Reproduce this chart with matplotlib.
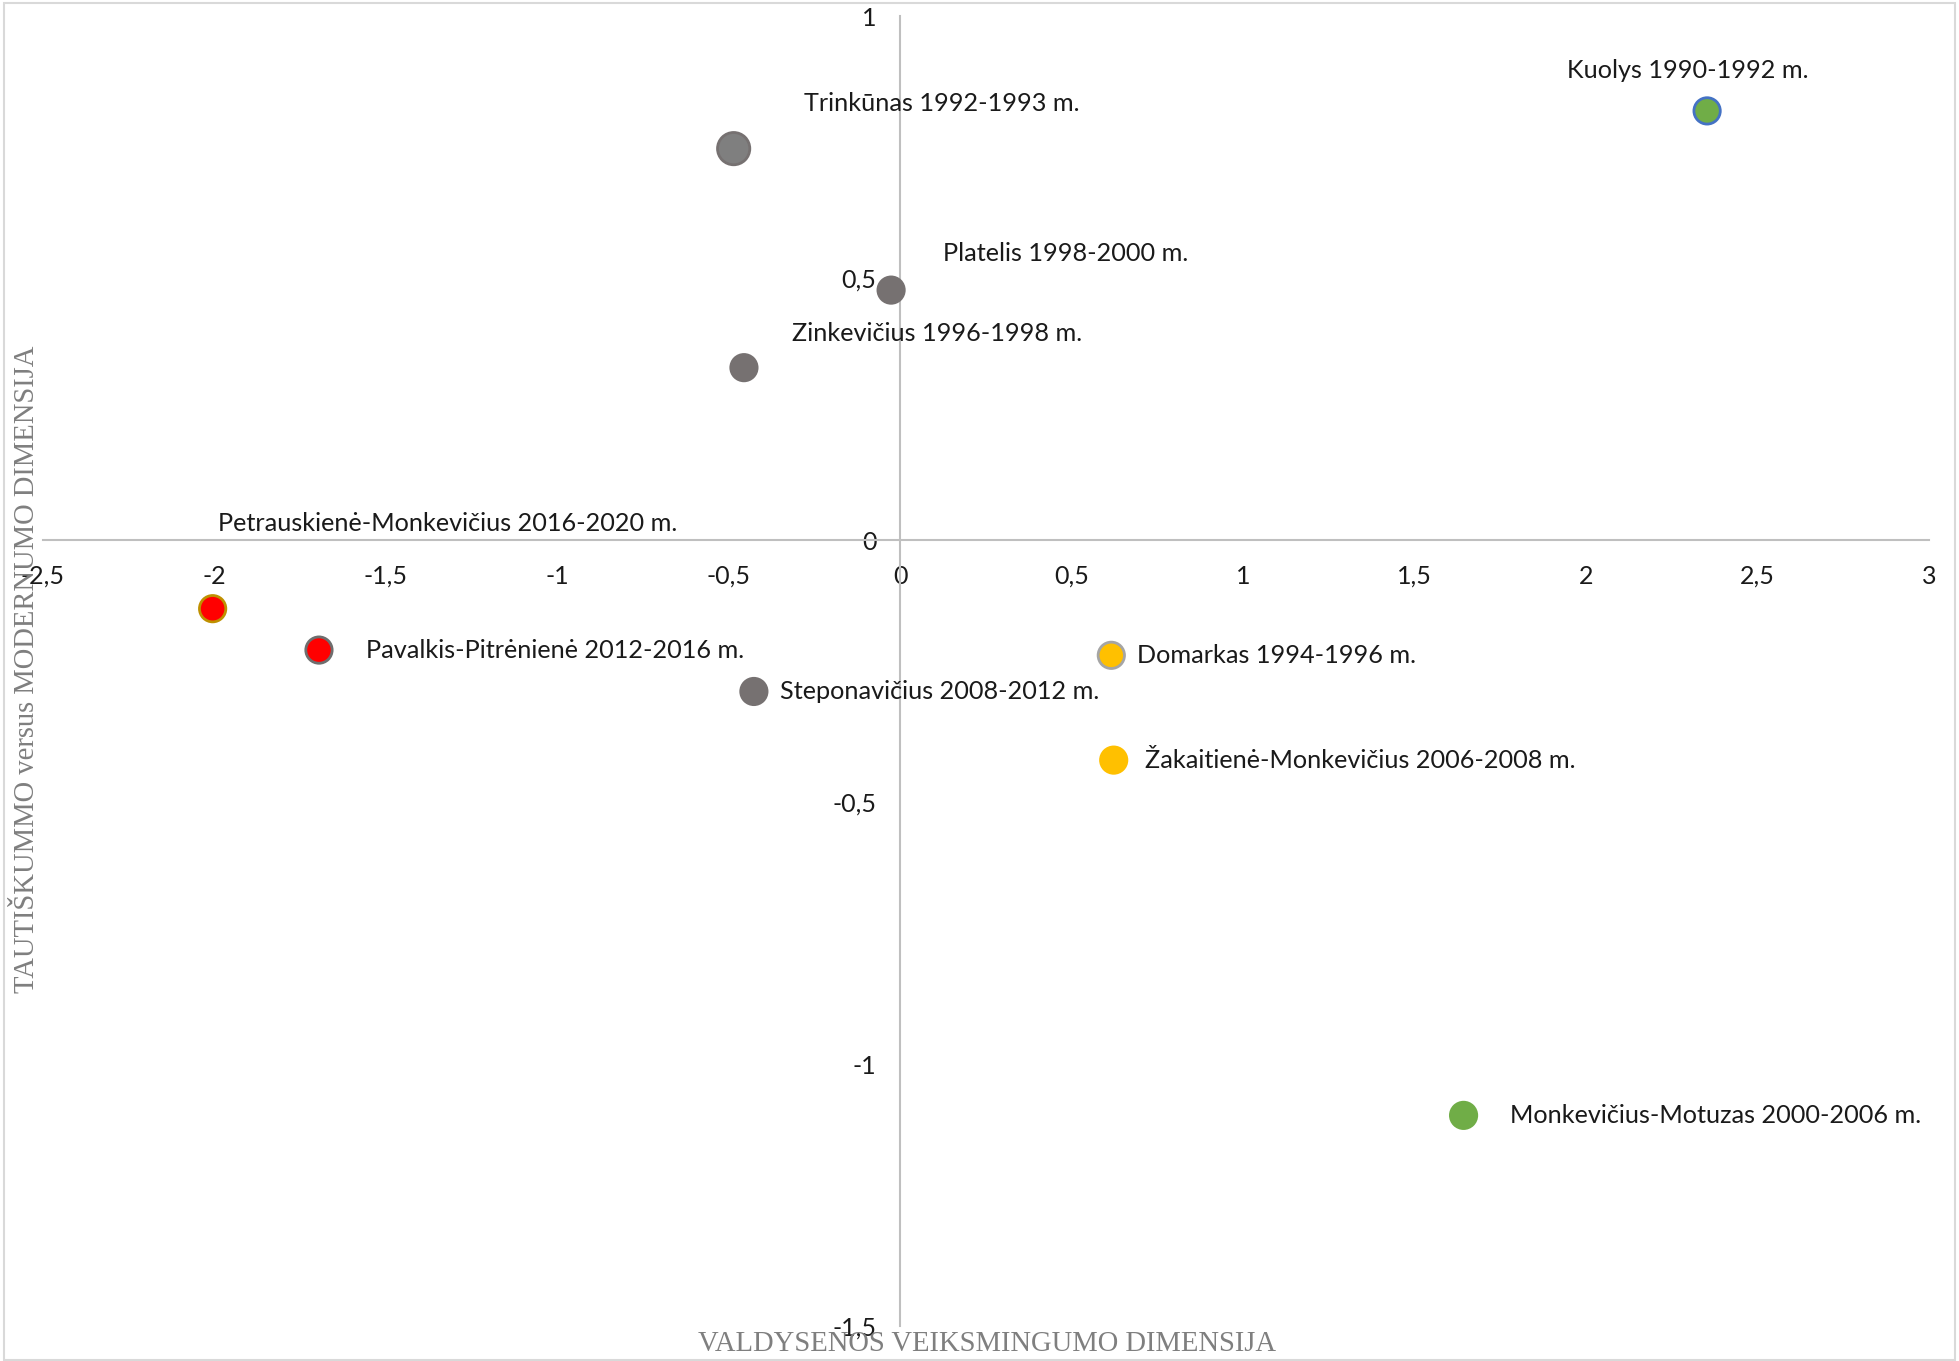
import matplotlib
matplotlib.use("Agg")
import matplotlib.pyplot as plt
from matplotlib.ticker import MultipleLocator, FuncFormatter
from matplotlib.patches import Rectangle

plt.rcParams['font.family'] = ['Lato', 'DejaVu Sans']

# ministrų kadencijos: x - valdysenos veiksmingumas, y - tautiškumas/modernumas
names = ["Kuolys 1990-1992 m.", "Trinkūnas 1992-1993 m.", "Platelis 1998-2000 m.",
         "Zinkevičius 1996-1998 m.", "Petrauskienė-Monkevičius 2016-2020 m.",
         "Pavalkis-Pitrėnienė 2012-2016 m.", "Steponavičius 2008-2012 m.",
         "Domarkas 1994-1996 m.", "Žakaitienė-Monkevičius 2006-2008 m.",
         "Monkevičius-Motuzas 2000-2006 m."]
x_vals = [2.353, -0.485, -0.026, -0.455, -2.004, -1.694, -0.426, 0.616, 0.623, 1.643]
y_vals = [0.819, 0.747, 0.477, 0.329, -0.131, -0.210, -0.289, -0.220, -0.420, -1.098]
fills = ['#70AD47', '#7F7F7F', '#767171', '#767171', '#FF0000',
         '#FF0000', '#767171', '#FFC000', '#FFC000', '#70AD47']
edges = ['#4472C4', '#767171', '#767171', '#767171', '#BF9000',
         '#6E6E6E', '#767171', '#A5A5A5', '#FFC000', '#70AD47']
sizes = [360, 540, 360, 360, 360, 360, 360, 360, 360, 360]
# etikečių poslinkiai (pikseliais) ir lygiavimas
offsets = [(-19, 40), (70, 45), (52, 37), (48, 34), (5, 85),
           (47, 0), (26, 0), (26, 0), (31, 0), (46, 0)]
aligns = ['center', 'left', 'left', 'left', 'left',
          'left', 'left', 'left', 'left', 'left']

fig = plt.figure(figsize=(19.59, 13.61), dpi=100)
ax = fig.add_axes([0.0217, 0.0257, 0.9630, 0.9625])

ax.scatter(x_vals, y_vals, s=sizes, c=fills, edgecolors=edges, linewidths=2, zorder=3)

for i in range(len(names)):
    ax.annotate(names[i], (x_vals[i], y_vals[i]), xytext=offsets[i],
                textcoords='offset pixels', ha=aligns[i], va='center',
                fontsize=18.2, color='#1a1a1a', zorder=4)

ax.set_xlim(-2.5, 3)
ax.set_ylim(-1.5, 1)
ax.xaxis.set_major_locator(MultipleLocator(0.5))
ax.yaxis.set_major_locator(MultipleLocator(0.5))
fmt = FuncFormatter(lambda v, p: ('%g' % v).replace('.', ','))
ax.xaxis.set_major_formatter(fmt)
ax.yaxis.set_major_formatter(fmt)

ax.spines['left'].set_position(('data', 0))
ax.spines['bottom'].set_position(('data', 0))
ax.spines['top'].set_visible(False)
ax.spines['right'].set_visible(False)
for s in ['left', 'bottom']:
    ax.spines[s].set_color('#BFBFBF')
    ax.spines[s].set_linewidth(1.5)
ax.tick_params(length=0, labelsize=18, labelcolor='#1a1a1a')
ax.tick_params(axis='x', pad=18)
ax.tick_params(axis='y', pad=17)

# ašių pavadinimai
serif = dict(family='Liberation Serif', color='#7F7F7F', fontsize=20.6)
fig.text(0.504, 0.0125, "VALDYSENOS VEIKSMINGUMO DIMENSIJA",
         ha='center', va='center', **serif)
fig.text(0.0172, 0.5085, "TAUTIŠKUMMO versus MODERNUMO DIMENSIJA", rotation=90,
         rotation_mode='anchor', ha='center', va='baseline', **serif)

fig.patches.append(Rectangle((0.002, 0.001), 0.996, 0.997, transform=fig.transFigure,
                             fill=False, edgecolor='#D9D9D9', linewidth=1.5))

fig.savefig('out.png', dpi=100)
